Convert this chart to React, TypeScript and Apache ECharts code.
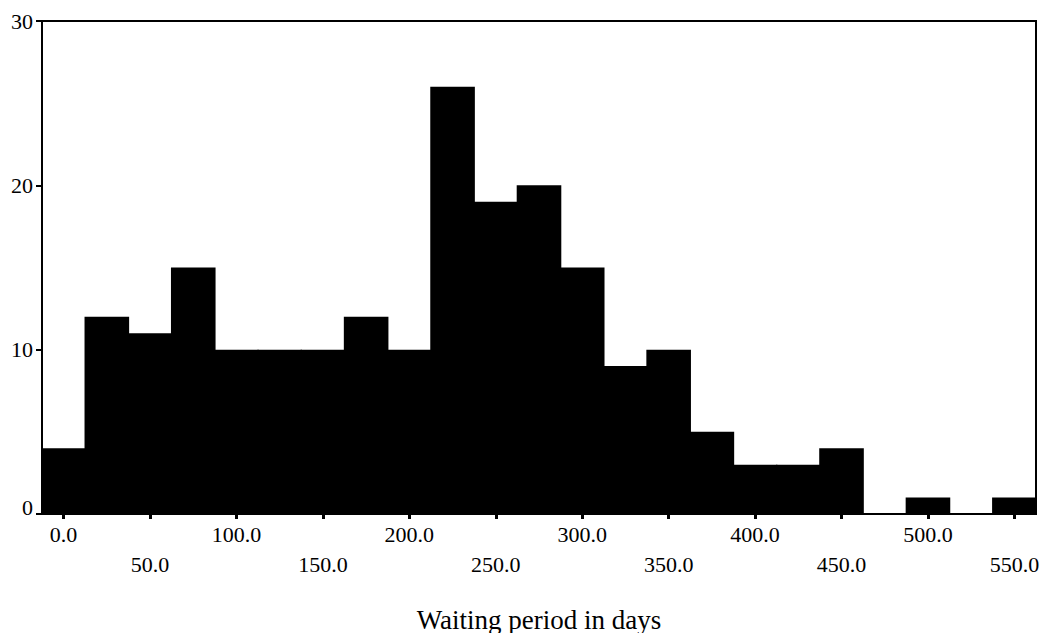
import React, { useEffect, useRef } from "react";
import * as echarts from "echarts";

const binCenters: number[] = [0, 25, 50, 75, 100, 125, 150, 175, 200, 225, 250, 275, 300, 325, 350, 375, 400, 425, 450, 475, 500, 525, 550];
const counts: number[] = [4, 12, 11, 15, 10, 10, 10, 12, 10, 26, 19, 20, 15, 9, 10, 5, 3, 3, 4, 0, 1, 0, 1];
const yTicks: number[] = [0, 10, 20, 30];
const xTitle = "Waiting period in days";

const FONT = "'Liberation Serif', 'Times New Roman', serif";

export default function App() {
  const ref = useRef<HTMLDivElement>(null);
  useEffect(() => {
    document.body.style.margin = "0";
    const chart = echarts.init(ref.current!, null, { renderer: "svg" });
    chart.setOption({
      animation: false,
      backgroundColor: "#ffffff",
      grid: {
        left: 42,
        right: 14,
        top: 21,
        bottom: 119,
        containLabel: false,
        outerBoundsMode: "none",
        show: true,
        borderColor: "#000",
        borderWidth: 2,
        backgroundColor: "transparent",
      },
      xAxis: {
        type: "category",
        data: binCenters.map((v) => v.toFixed(1)),
        boundaryGap: true,
        name: xTitle,
        nameLocation: "middle",
        nameGap: 92,
        nameTextStyle: { fontFamily: FONT, fontSize: 27, color: "#000" },
        axisLine: { show: true, lineStyle: { color: "#000", width: 1 } },
        axisTick: { show: true, alignWithLabel: true, interval: 1, length: 5, lineStyle: { color: "#000", width: 3 } },
        axisLabel: {
          interval: 1,
          margin: 5,
          fontFamily: FONT,
          fontSize: 22,
          color: "#000",
          lineHeight: 30,
          formatter: (value: string, index: number) => (index % 4 === 0 ? value : "\n" + value),
        },
        splitLine: { show: false },
      },
      yAxis: {
        type: "value",
        min: 0,
        max: 30,
        interval: 10,
        axisLine: { show: true, lineStyle: { color: "#000", width: 2 } },
        axisTick: { show: true, length: 6, lineStyle: { color: "#000", width: 2 } },
        axisLabel: {
          margin: 9,
          fontFamily: FONT,
          fontSize: 22,
          color: "#000",
          formatter: (v: number) => (yTicks.includes(v) ? (v === 0 ? "{z|0}" : String(v)) : ""),
          rich: {
            z: { fontFamily: FONT, fontSize: 22, color: "#000", padding: [0, 0, 13, 0] },
          },
        },
        splitLine: { show: false },
      },
      series: [
        {
          type: "bar",
          data: counts,
          barWidth: 44.6,
          itemStyle: { color: "#000" },
        },
      ],
    });
    return () => chart.dispose();
  }, []);
  return <div ref={ref} style={{ width: 1050, height: 633 }} />;
}
